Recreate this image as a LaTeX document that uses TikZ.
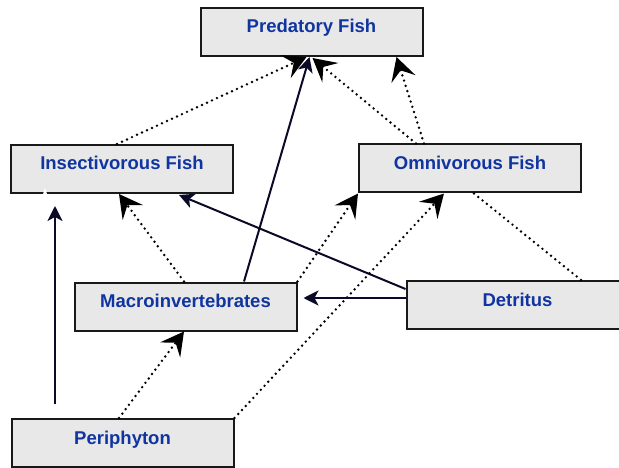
\documentclass[tikz,border=0pt]{standalone}
\usepackage{fontspec}
\setmainfont{Liberation Sans}
\usetikzlibrary{arrows.meta,calc}
\definecolor{boxfill}{RGB}{232,232,232}
\definecolor{labelblue}{RGB}{16,52,160}
\definecolor{navy}{RGB}{10,10,40}
\begin{document}
\begin{tikzpicture}[x=1pt,y=-1pt,
  box/.style={draw=black!90, line width=2pt, fill=boxfill, minimum width=222pt, minimum height=48pt,
    inner sep=0pt, text height=13.5pt, text depth=11.5pt,
    font=\fontsize{18.5}{22}\selectfont\bfseries, text=labelblue},
  feed/.style={draw=navy, line width=2pt, -{Stealth[length=15pt,width=15pt,inset=4pt]}},
  dots/.style={draw=black, line width=2.7pt, dash pattern=on 0pt off 5.5pt, line cap=round},
  dotfeed/.style={dots, -{Stealth[length=23pt,width=25pt,inset=9pt]}},
]
\useasboundingbox (0,0) rectangle (619,468);
\fill[white] (0,0) rectangle (619,468);

\node[box] (pred)   at (311.5,32)   {Predatory Fish};
\node[box] (insect) at (122,169)    {Insectivorous Fish};
\node[box] (omni)   at (470,168.5)  {Omnivorous Fish};
\node[box] (macro)  at (185.5,306.5){Macroinvertebrates};
\node[box] (detr)   at (517.5,305)  {Detritus};
\node[box] (peri)   at (122.5,443)  {Periphyton};

% to predatory fish
\draw[dotfeed] ($(insect.north west)+(107,0)$) -- ($(pred.south west)+(107,0)$);
\draw[feed]    ($(macro.north west)+(170.5,0)$) -- ($(pred.south west)+(110,0)$);
\draw[dotfeed] ($(omni.north west)+(58,0)$) -- ($(pred.south west)+(113,1)$);
\draw[dotfeed] ($(omni.north west)+(66,0)$) -- ($(pred.south west)+(197,0)$);

% to insectivorous fish
\draw[dotfeed] ($(macro.north west)+(110.5,0)$) -- ($(insect.south west)+(109,0)$);
\draw[feed]    ($(detr.north west)+(0,9)$) -- ($(insect.south west)+(169,1)$);
\draw[feed]    ($(peri.north west)+(44.5,-14)$) -- ($(insect.south west)+(45,12)$);
\fill[white] ($(insect.south west)+(33,0)$) -- ($(insect.south west)+(35,-6)$) -- ($(insect.south west)+(37,0)$) -- cycle;

% to omnivorous fish
\draw[dotfeed] (macro.north east) -- (omni.south west);
\draw[dotfeed] (peri.north east) -- ($(omni.south west)+(86,0)$);

% to macroinvertebrates
\draw[dotfeed] ($(peri.north west)+(108.5,0)$) -- ($(macro.south west)+(110.5,0)$);
\draw[feed]    ($(detr.north west)+(0,18)$) -- ($(macro.north east)+(6,16.5)$);

% omnivorous -- detritus
\draw[dots] ($(omni.south west)+(116,0)$) -- ($(detr.north west)+(175.5,0)$);
\end{tikzpicture}
\end{document}
